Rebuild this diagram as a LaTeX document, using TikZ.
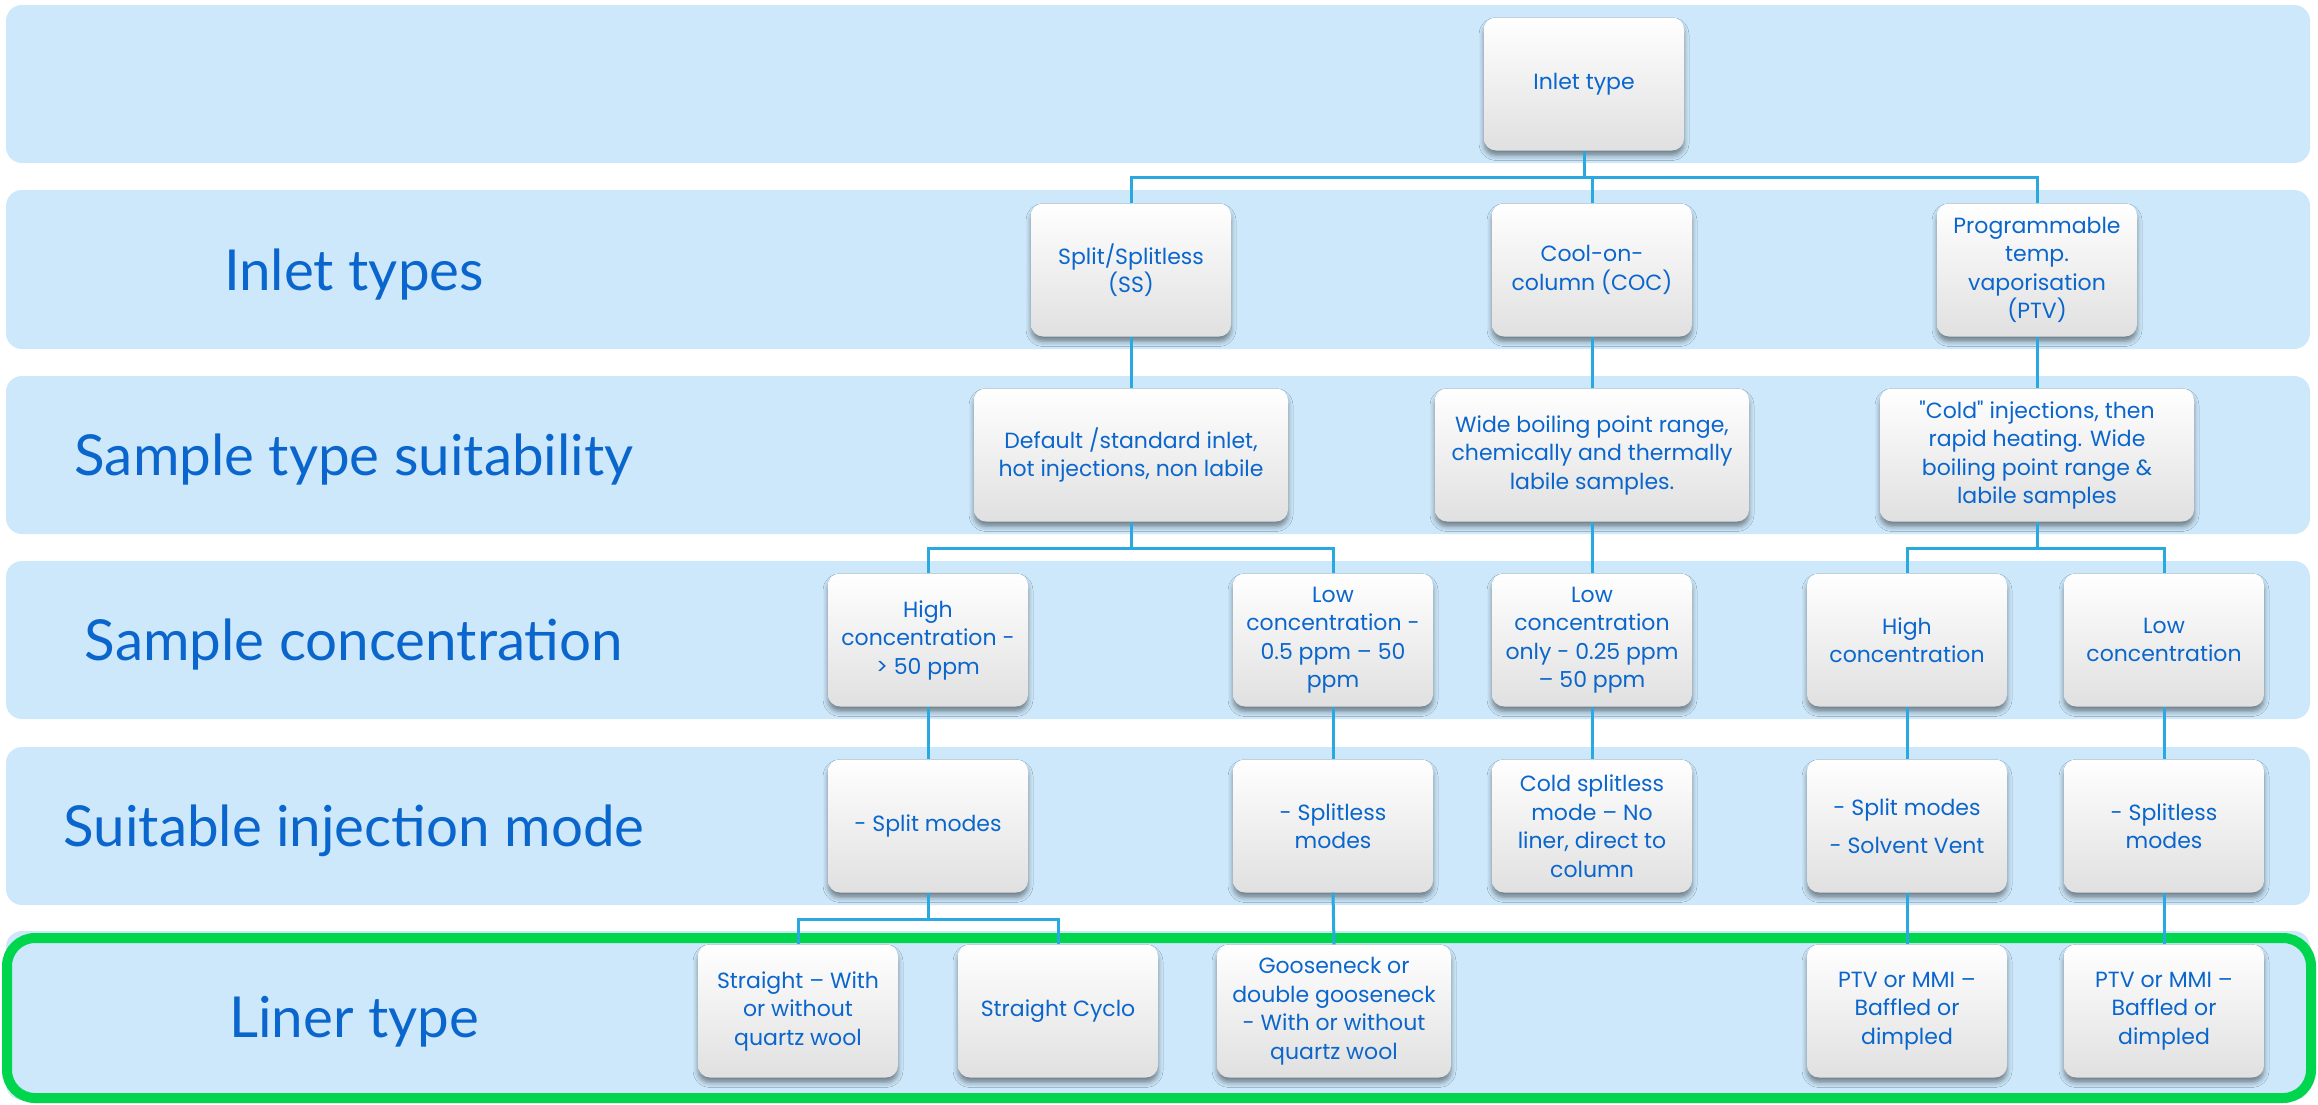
\documentclass[tikz,border=0pt]{standalone}
\usepackage{fontspec}
\setmainfont{Poppins}[Ligatures=TeXOff]
\newfontfamily\labfont{Lato}
\usetikzlibrary{shadows.blur}

\definecolor{bandblue}{HTML}{CDE8FB}
\definecolor{txtblue}{HTML}{0A66CC}
\definecolor{connblue}{HTML}{2AA8E0}
\definecolor{framegreen}{HTML}{00D64D}
\definecolor{boxgray}{HTML}{E0E0E0}

\tikzset{
  band/.style={fill=bandblue, rounded corners=16pt},
  conn/.style={draw=connblue, line width=3pt},
  card/.style={rectangle, rounded corners=12pt, minimum width=200pt,
    minimum height=133pt, inner sep=2pt, align=center,
    font=\fontsize{22}{28.5}\selectfont, text=txtblue,
    top color=white, middle color=white, bottom color=boxgray,
    blur shadow={shadow xshift=0pt, shadow yshift=-5pt,
      shadow blur radius=5pt, shadow opacity=45}},
  widecard/.style={card, minimum width=314pt},
  rowlabel/.style={font=\labfont\fontsize{56.5}{60}\selectfont, text=txtblue},
}

\begin{document}
\begin{tikzpicture}[x=1pt, y=-1pt]
\useasboundingbox (0,0) rectangle (2318,1104);
\fill[white] (0,0) rectangle (2318,1104);

% horizontal bands
\fill[band] (6,5)   rectangle (2310,163);
\fill[band] (6,190) rectangle (2310,349);
\fill[band] (6,376) rectangle (2310,534);
\fill[band] (6,561) rectangle (2310,719);
\fill[band] (6,747) rectangle (2310,905);
\fill[band] (6,931) rectangle (2310,1100);
\draw[framegreen, line width=10pt, rounded corners=28pt] (7,938) rectangle (2311,1098);

% row labels
\node[rowlabel] (lab1) at (354,275)  {Inlet types};
\node[rowlabel] (lab2) at (354,460)  {Sample type suitability};
\node[rowlabel] (lab3) at (354,645)  {Sample concentration};
\node[rowlabel] (lab4) at (354,831)  {Suitable injection mode};
\node[rowlabel] (lab5) at (354,1022) {Liner type};

% bus levels
\coordinate (bus1) at (0,177);
\coordinate (bus3) at (0,548);
\coordinate (bus5) at (0,919);

% cards
\node[card] (inlet) at (1584,84) {Inlet type};

\node[card] (ss)  at (1131,270) {Split/Splitless\\(SS)};
\node[card] (coc) at (1592,270) {Cool-on-\\column (COC)};
\node[card] (ptv) at (2037,270) {Programmable\\temp.\\vaporisation\\(PTV)};

\node[widecard] (dflt) at (1131,455) {Default /standard inlet,\\hot injections, non labile};
\node[widecard] (wide) at (1592,455) {Wide boiling point range,\\chemically and thermally\\labile samples.};
\node[widecard] (cold) at (2037,455) {"Cold" injections, then\\rapid heating. Wide\\boiling point range \&\\labile samples};

\node[card] (hiss)  at (928,640)  {High\\concentration -\\> 50 ppm};
\node[card] (loss)  at (1333,640) {Low\\concentration -\\0.5 ppm – 50\\ppm};
\node[card] (lococ) at (1592,640) {Low\\concentration\\only - 0.25 ppm\\– 50 ppm};
\node[card] (hiptv) at (1907,640) {High\\concentration};
\node[card] (loptv) at (2164,640) {Low\\concentration};

\node[card] (splitss)  at (928,826)  {- Split modes};
\node[card] (spllss)   at (1333,826) {- Splitless\\modes};
\node[card] (coldspl)  at (1592,826) {Cold splitless\\mode – No\\liner, direct to\\column};
\node[card] (splitptv) at (1907,826) {- Split modes\\[10pt]- Solvent Vent};
\node[card] (spllptv)  at (2164,826) {- Splitless\\modes};

\node[card] (straight) at (798,1011)  {Straight – With\\or without\\quartz wool};
\node[card] (cyclo)    at (1058,1011) {Straight Cyclo};
\node[card, minimum width=234pt] (goose) at (1334,1011) {Gooseneck or\\double gooseneck\\- With or without\\quartz wool};
\node[card] (mmia) at (1907,1011) {PTV or MMI –\\Baffled or\\dimpled};
\node[card] (mmib) at (2164,1011) {PTV or MMI –\\Baffled or\\dimpled};

% connectors
\draw[conn] (inlet.south) -- (inlet.south |- bus1) -| (ss.north);
\draw[conn] (inlet.south) -- (inlet.south |- bus1) -| (coc.north);
\draw[conn] (inlet.south) -- (inlet.south |- bus1) -| (ptv.north);

\draw[conn] (ss.south)  -- (dflt.north);
\draw[conn] (coc.south) -- (wide.north);
\draw[conn] (ptv.south) -- (cold.north);

\draw[conn] (dflt.south) -- (dflt.south |- bus3) -| (hiss.north);
\draw[conn] (dflt.south) -- (dflt.south |- bus3) -| (loss.north);
\draw[conn] (wide.south) -- (lococ.north);
\draw[conn] (cold.south) -- (cold.south |- bus3) -| (hiptv.north);
\draw[conn] (cold.south) -- (cold.south |- bus3) -| (loptv.north);

\draw[conn] (hiss.south)  -- (splitss.north);
\draw[conn] (loss.south)  -- (spllss.north);
\draw[conn] (lococ.south) -- (coldspl.north);
\draw[conn] (hiptv.south) -- (splitptv.north);
\draw[conn] (loptv.south) -- (spllptv.north);

\draw[conn] (splitss.south) -- (splitss.south |- bus5) -| (straight.north);
\draw[conn] (splitss.south) -- (splitss.south |- bus5) -| (cyclo.north);
\draw[conn] (spllss.south)   -- (goose.north);
\draw[conn] (splitptv.south) -- (mmia.north);
\draw[conn] (spllptv.south)  -- (mmib.north);
\end{tikzpicture}
\end{document}
